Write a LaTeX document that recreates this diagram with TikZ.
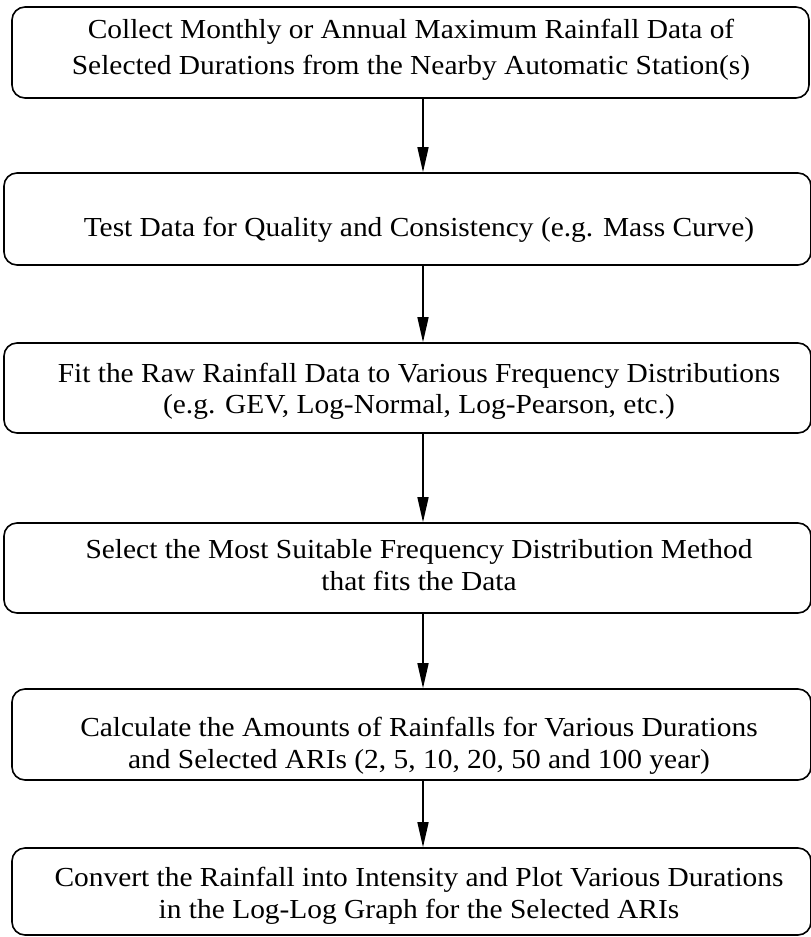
\documentclass[tikz,border=0pt]{standalone}
\usepackage{fontspec}
\setmainfont[FakeStretch=1.07]{Liberation Serif}
\usetikzlibrary{arrows.meta}
\begin{document}
\begin{tikzpicture}[x=1pt,y=-1pt,
  box/.style={draw, line width=1.6pt, rounded corners=13pt, rectangle, inner sep=0pt},
  txt/.style={font=\fontsize{27.5}{32}\selectfont, align=center, inner sep=0pt, anchor=base},
  arr/.style={line width=1.5pt, -{Triangle[length=25pt,width=11pt]}}]
\useasboundingbox (0,0) rectangle (811,937);
\node[box, minimum width=797pt, minimum height=91pt] (b1) at (410.5,52.5) {};
\node[box, minimum width=807pt, minimum height=92pt] (b2) at (407.5,219) {};
\node[box, minimum width=807pt, minimum height=90pt] (b3) at (407.5,388) {};
\node[box, minimum width=807pt, minimum height=90pt] (b4) at (407.5,568) {};
\node[box, minimum width=799pt, minimum height=91pt] (b5) at (411.5,734.5) {};
\node[box, minimum width=799pt, minimum height=87pt] (b6) at (411.5,891.5) {};
\node[txt, font=\fontsize{27.5}{36}\selectfont] (t1) at (411,74) {Collect Monthly or Annual Maximum Rainfall Data of\\Selected Durations from the Nearby Automatic Station(s)};
\node[txt] (t2) at (419,236) {Test Data for Quality and Consistency (e.g. Mass Curve)};
\node[txt, font=\fontsize{27.5}{31}\selectfont] (t3) at (419,413) {Fit the Raw Rainfall Data to Various Frequency Distributions\\(e.g. GEV, Log-Normal, Log-Pearson, etc.)};
\node[txt] (t4) at (419,590) {Select the Most Suitable Frequency Distribution Method\\that fits the Data};
\node[txt] (t5) at (419,768) {Calculate the Amounts of Rainfalls for Various Durations\\and Selected ARIs (2, 5, 10, 20, 50 and 100 year)};
\node[txt] (t6) at (419,918) {Convert the Rainfall into Intensity and Plot Various Durations\\in the Log-Log Graph for the Selected ARIs};
\coordinate (ax) at (423,0);
\draw[arr] (b1.south -| ax) -- (b2.north -| ax);
\draw[arr] (b2.south -| ax) -- (b3.north -| ax);
\draw[arr] (b3.south -| ax) -- (b4.north -| ax);
\draw[arr] (b4.south -| ax) -- (b5.north -| ax);
\draw[arr] (b5.south -| ax) -- (b6.north -| ax);
\end{tikzpicture}
\end{document}
